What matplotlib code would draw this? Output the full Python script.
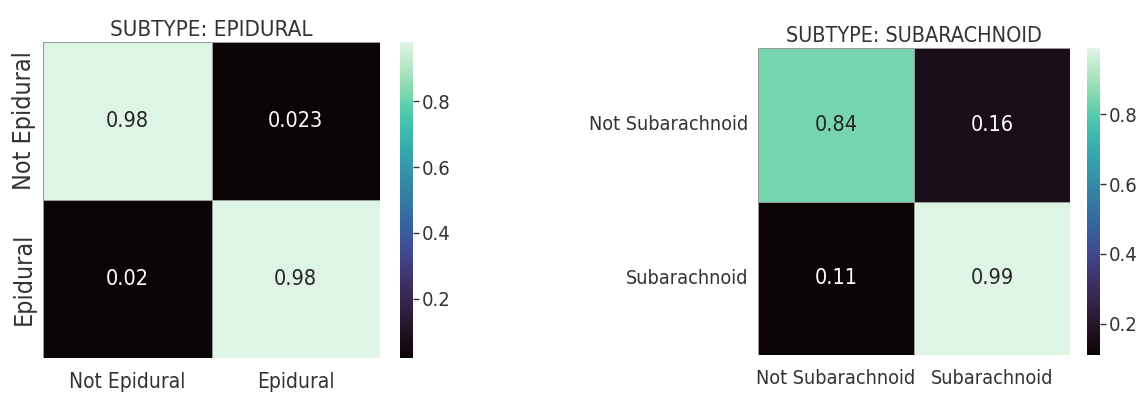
import numpy as np
import matplotlib
matplotlib.use("Agg")
import matplotlib.pyplot as plt
import seaborn as sns

# --- データ ---
epiLabels = ["Not Epidural", "Epidural"]
epiValues = [[0.98, 0.023],
             [0.02, 0.98]]
subLabels = ["Not Subarachnoid", "Subarachnoid"]
subValues = [[0.84, 0.16],
             [0.11, 0.99]]

plt.rcParams['font.family'] = ['DejaVu Sans']
plt.rcParams['font.stretch'] = 'condensed'
textColor = '#333333'

W, H = 1144, 394
fig = plt.figure(figsize=(W / 100, H / 100), dpi=100)

def box(x0, y0, x1, y1):
    # ピクセル座標 -> figure座標
    return [x0 / W, 1 - y1 / H, (x1 - x0) / W, (y1 - y0) / H]

def drawMatrix(axBox, cbBox, values, labels, title, rotateY, tickSize, titleSize):
    ax = fig.add_axes(box(*axBox))
    cax = fig.add_axes(box(*cbBox))
    sns.heatmap(np.array(values), ax=ax, cbar_ax=cax, cmap='mako', annot=True, fmt='.2g',
                annot_kws={'fontsize': 15.5}, linewidths=0.6, linecolor='#9a9a9a',
                xticklabels=labels, yticklabels=labels)
    ax.set_title(title, fontsize=titleSize, color=textColor, pad=4)
    ax.tick_params(length=0, pad=10, colors=textColor)
    for t in ax.get_xticklabels():
        t.set_fontsize(tickSize)
    if rotateY:
        ax.set_yticklabels(labels, rotation=90, va='center', fontsize=18)
        ax.tick_params(axis='y', pad=5)
    else:
        ax.set_yticklabels(labels, rotation=0, fontsize=tickSize)
        ax.tick_params(axis='y', pad=7)
    cax.set_yticks([0.2, 0.4, 0.6, 0.8])
    cax.tick_params(labelsize=14.5, length=4, width=1, colors=textColor, pad=2)
    for s in cax.spines.values():
        s.set_visible(False)

drawMatrix((43, 42, 380, 358), (400, 42, 413, 358), epiValues, epiLabels,
           "SUBTYPE: EPIDURAL", True, 15, 16)
drawMatrix((758, 48, 1070, 355), (1087, 48, 1100, 355), subValues, subLabels,
           "SUBTYPE: SUBARACHNOID", False, 14.2, 15.5)

fig.savefig("out.png", dpi=100)
